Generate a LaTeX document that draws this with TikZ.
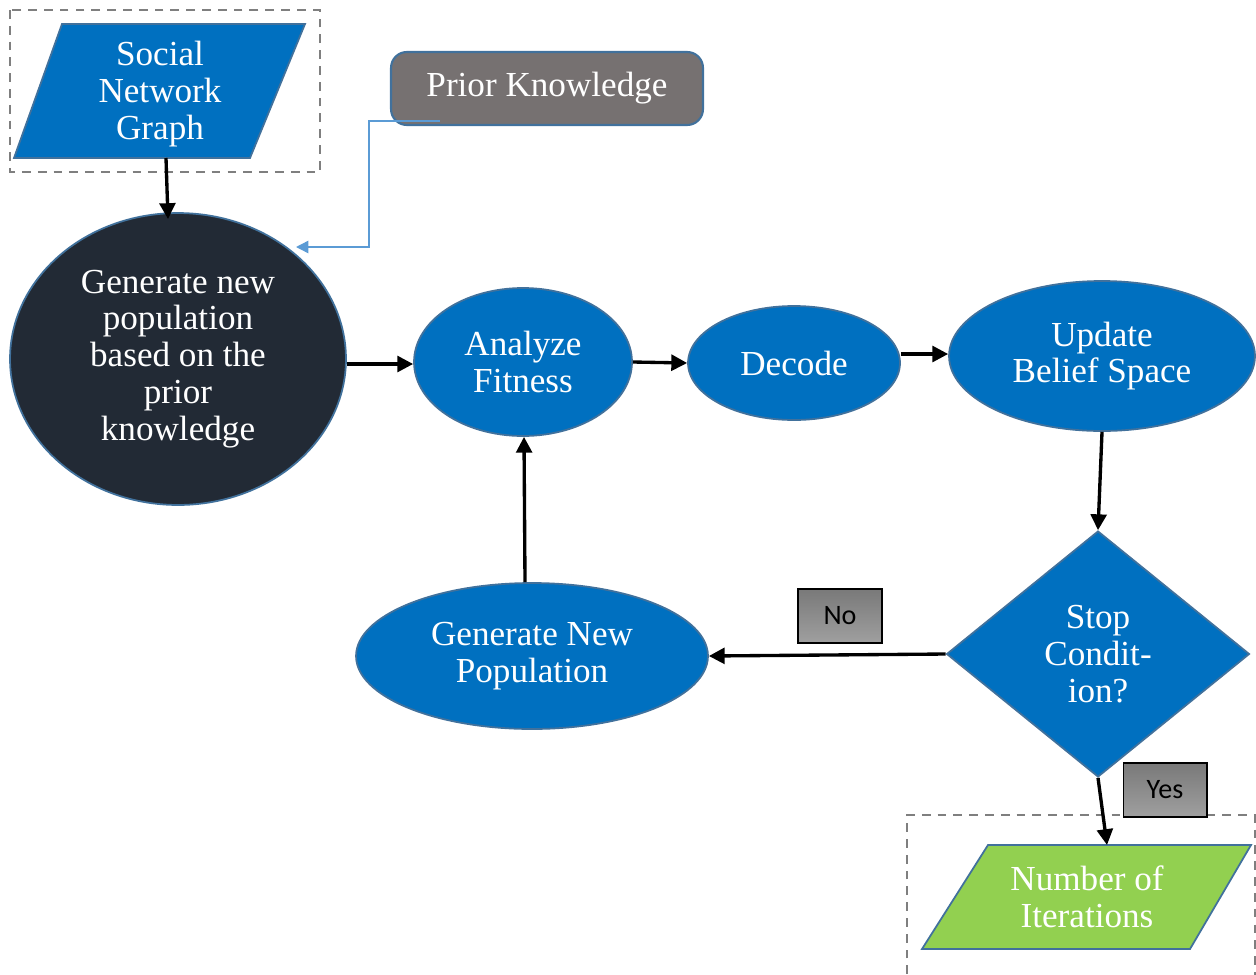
\documentclass[tikz,border=0pt]{standalone}
\usepackage{fontspec}
\setmainfont{Liberation Serif}
\newfontfamily\lblfont{Carlito}
\usetikzlibrary{shapes.geometric,arrows.meta,calc}
\definecolor{fblue}{HTML}{0070C0}
\definecolor{bblue}{HTML}{41719C}
\definecolor{fdark}{HTML}{222A35}
\definecolor{fgray}{HTML}{767171}
\definecolor{fgreen}{HTML}{92D050}
\definecolor{lblue}{HTML}{5B9BD5}
\definecolor{dgray}{HTML}{7F7F7F}
\tikzset{
  txt/.style={text=white,align=center,font=\fontsize{20}{21}\selectfont},
  oval/.style={ellipse,draw=bblue,line width=1pt,fill=fblue,inner sep=0pt,txt},
  arr/.style={draw=black,line width=1.9pt,-{Triangle[length=9pt,width=9pt]}},
  lbl/.style={draw=black,line width=0.6pt,top color=gray!95!black,bottom color=gray!75,minimum width=1.68cm,minimum height=1.08cm,inner sep=0pt,font=\lblfont\fontsize{16}{18}\selectfont},
  dbox/.style={draw=dgray,line width=1.1pt,dash pattern=on 5pt off 4pt}
}
\begin{document}
\begin{tikzpicture}[x=0.02cm,y=-0.02cm]
\useasboundingbox (0,0) rectangle (1256,974);
% dashed boxes
\draw[dbox] (10,10) rectangle (320,172);
\draw[dbox] (907,990) -- (907,815) -- (1255,815) -- (1255,990);
% Social Network Graph parallelogram
\filldraw[fill=fblue,draw=bblue,line width=1pt] (14,158) -- (62,24) -- (305,24) -- (250,158) -- cycle;
\node[txt] (sng) at (160,94) {Social\\Network\\Graph};
\coordinate (sngb) at (166,158);
\coordinate (gentop) at (168,219);
% Prior knowledge
\node[draw=bblue,line width=1.2pt,fill=fgray,rounded corners=9pt,minimum width=6.24cm,minimum height=1.46cm,inner sep=0pt,txt] (pk) at (547,88.5) {Prior Knowledge};
\coordinate (pks) at (440,121);
% dark ellipse
\node[ellipse,draw=bblue,line width=1pt,fill=fdark,inner sep=0pt,minimum width=6.72cm,minimum height=5.84cm,txt] (gen) at (178,359) {Generate new\\population\\based on the\\prior\\knowledge};
\node[oval,minimum width=4.36cm,minimum height=2.96cm] (af) at (523,362) {Analyze\\Fitness};
\node[oval,minimum width=4.24cm,minimum height=2.28cm] (dec) at (794,363) {Decode};
\node[oval,minimum width=6.12cm,minimum height=3.0cm] (ub) at (1102,356) {Update\\Belief Space};
\node[oval,minimum width=7.04cm,minimum height=2.92cm] (gnp) at (532,656) {Generate New\\Population};
\node[diamond,draw=bblue,line width=1pt,fill=fblue,inner sep=0pt,minimum width=6.06cm,minimum height=4.92cm,txt] (stop) at (1098,654) {Stop\\Condit-\\ion?};
% Number of iterations
\filldraw[fill=fgreen,draw=bblue,line width=1pt] (922,949) -- (988,845) -- (1251,845) -- (1190,949) -- cycle;
\node[txt] (noi) at (1087,897) {Number of\\Iterations};
\coordinate (noit) at (1107,845);
% labels
\node[lbl] (no) at (840,616) {No};
\node[lbl] (yes) at (1165,790) {Yes};
% connectors
\draw[arr] (sngb) -- (gentop);
\draw[arr] ($(gen.east)+(0,5)$) -- ($(af.west)+(0,2)$);
\draw[arr] (af.east) -- (dec.west);
\draw[arr] ($(dec.east)+(0,-9)$) -- ($(ub.west)+(0,-2)$);
\draw[arr] (ub.south) -- (stop.north);
\draw[arr] (stop.west) -- (gnp.east);
\draw[arr] ($(gnp.north)+(-7,0)$) -- ($(af.south)+(1,0)$);
\draw[arr] (stop.south) -- (noit);
\coordinate (pkc) at (369,247);
\draw[lblue,line width=0.8pt,-{Triangle[length=7pt,width=7pt]}] (pks) -- (369,121) -- (pkc) -- (296,247);
\end{tikzpicture}
\end{document}
